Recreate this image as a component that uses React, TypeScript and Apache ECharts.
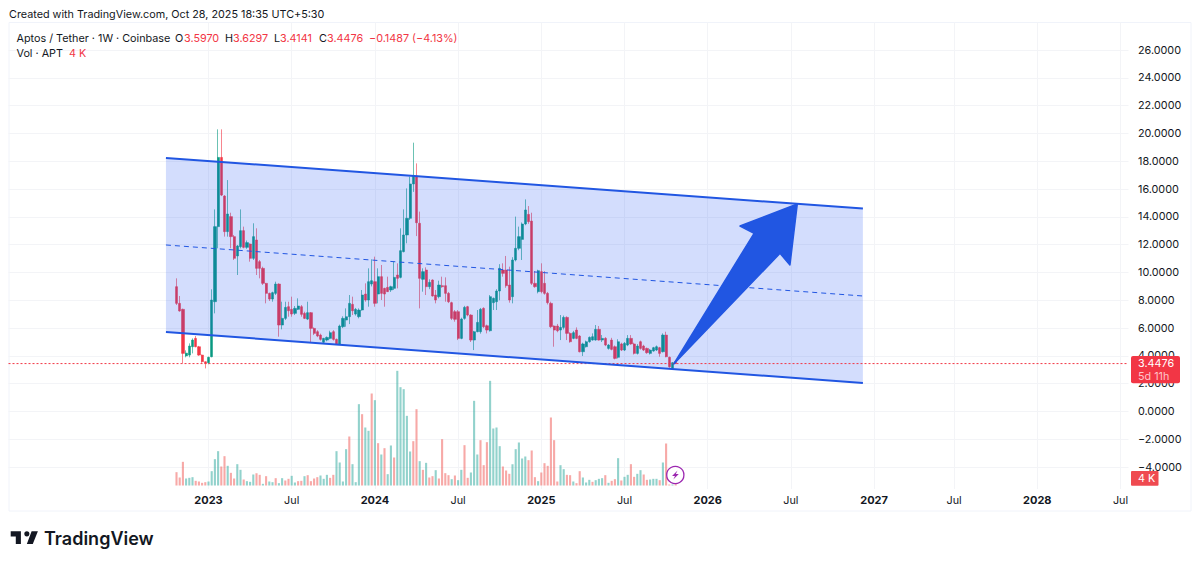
import React, { useEffect, useRef } from "react";
import * as echarts from "echarts";

const FONT = 'Inter, "Liberation Sans", Arial, sans-serif';
const WEEK_COUNT = 350;
const FIRST_BAR_WEEK = 52;

const tickWeeks = [62, 88, 114, 140, 166, 192, 218, 244, 270, 295, 321, 347];
const tickNames = ["2023", "Jul", "2024", "Jul", "2025", "Jul", "2026", "Jul", "2027", "Jul", "2028", "Jul"];

const opens = [8.98,7.78,7.35,4.0,4.06,4.66,5.26,4.66,4.06,3.58,3.51,3.94,7.9,13.3,18.28,15.5,12.94,14.02,12.58,11.19,11.86,13.01,11.81,12.05,11.02,12.34,10.78,10.3,9.22,8.5,8.09,8.5,9.17,6.22,6.7,7.54,7.35,7.06,7.35,7.54,7.06,6.65,7.11,5.98,5.74,5.5,4.98,5.14,5.26,5.74,5.19,4.86,6.1,6.58,6.82,7.71,7.01,6.82,7.3,8.45,8.02,9.17,9.34,8.45,9.7,8.86,8.93,8.74,8.86,9.82,9.65,11.5,12.7,13.9,16.37,16.94,13.54,9.51,10.18,8.98,9.46,8.38,8.26,9.05,9.05,8.5,7.83,7.18,7.18,5.26,6.7,7.54,6.94,5.14,5.74,5.74,7.42,6.17,5.81,7.83,7.9,8.67,10.18,10.18,9.1,8.26,10.9,11.74,12.38,13.49,14.18,13.7,9.22,8.62,10.06,9.22,8.5,7.78,6.15,6.15,5.86,6.05,6.77,5.62,5.26,5.86,5.43,4.3,4.66,5.02,5.14,5.14,5.91,5.14,5.26,4.54,5.14,4.66,3.9,4.86,4.42,4.78,5.26,4.86,4.18,5.02,4.71,4.54,4.18,4.35,4.42,4.59,4.3,5.5,3.9,3.1,3.597];
const closes = [7.78,7.23,4.18,4.2,4.71,5.14,4.66,4.06,3.58,3.46,3.9,8.02,13.3,18.28,15.57,12.94,14.21,12.58,11.02,11.91,13.01,11.81,12.15,11.02,12.58,10.3,10.3,9.22,8.5,8.09,8.55,9.17,6.22,6.7,7.49,7.25,7.01,7.42,7.59,6.99,6.7,7.11,5.98,5.62,5.43,5.19,5.26,5.33,5.67,5.19,4.86,6.15,6.7,6.82,7.78,7.25,7.35,7.3,8.38,8.02,9.34,9.41,7.78,9.7,8.5,8.45,8.62,8.98,9.65,9.58,11.57,12.7,13.9,16.37,16.94,13.58,9.58,10.06,8.98,9.29,8.31,8.02,9.1,8.98,8.5,7.9,6.7,6.63,5.26,6.65,7.49,6.94,5.14,5.74,6.41,7.35,6.1,5.86,8.26,8.14,8.67,10.3,9.94,9.05,8.02,10.9,11.74,12.58,13.49,14.5,13.66,9.22,8.98,10.13,8.62,8.5,7.83,6.1,5.86,5.81,6.05,6.77,5.62,5.02,5.67,5.26,4.3,4.86,5.02,5.33,5.38,5.91,5.14,5.26,4.78,4.78,4.47,3.82,5.02,4.42,4.9,5.26,4.86,4.18,4.71,4.54,4.42,4.23,4.42,4.59,4.66,4.18,5.5,3.94,3.22,3.51,3.4476];
const lows = [7.66,7.18,3.46,3.9,3.9,4.18,4.62,4.0,3.5,3.1,3.4,3.9,7.06,11.74,15.5,12.58,12.58,11.74,10.9,9.82,11.74,11.74,11.7,10.78,10.9,9.82,9.58,9.1,7.78,7.95,7.9,8.38,5.38,5.91,6.58,6.82,6.82,6.94,7.3,6.82,6.65,6.58,4.95,5.5,5.35,5.1,4.9,5.05,5.2,5.1,4.8,4.8,6.0,6.1,6.29,6.94,6.9,6.7,7.25,7.9,7.54,9.0,7.54,7.78,8.02,7.54,8.6,8.6,8.74,8.86,9.58,11.45,12.1,13.78,15.8,12.62,7.42,8.62,8.38,8.8,8.26,7.78,8.14,8.9,7.9,7.8,6.58,6.46,5.14,5.2,6.6,6.85,5.0,4.42,5.7,5.6,6.0,5.62,5.75,7.3,7.3,8.0,9.7,8.9,7.83,7.78,10.8,11.6,10.9,13.4,13.5,9.1,8.9,8.5,8.5,8.4,7.7,6.0,4.66,5.7,5.14,5.9,5.14,4.95,5.2,5.2,4.25,3.99,4.6,4.95,5.1,5.1,5.1,5.0,4.7,4.45,4.4,3.75,3.82,4.35,4.35,4.7,4.8,4.1,4.1,4.45,4.35,4.15,4.1,4.3,4.35,3.94,4.25,3.9,3.15,3.05,3.4141];
const highs = [9.58,8.31,7.4,4.4,4.9,5.26,5.43,4.72,4.1,3.6,3.95,8.79,14.54,20.3,20.3,15.57,16.65,14.3,12.7,11.98,14.54,13.3,12.3,12.1,13.54,13.18,10.9,10.42,9.25,8.55,8.62,9.34,9.22,7.9,7.9,7.9,8.26,7.59,8.14,7.66,7.18,7.9,7.15,6.05,5.85,5.6,5.3,5.4,5.81,5.85,5.25,6.25,6.85,7.42,8.38,8.26,7.45,7.42,8.74,9.22,10.3,10.95,11.14,10.3,10.54,8.9,9.7,9.05,10.78,10.66,13.18,14.54,16.05,16.89,19.34,17.85,14.38,10.3,10.37,9.51,9.51,8.74,9.41,9.7,9.65,8.6,7.9,7.3,7.3,6.75,7.6,7.6,7.0,5.8,7.3,7.45,7.5,6.25,8.38,8.2,8.8,10.6,10.66,11.19,10.42,11.1,14.02,13.3,13.6,15.26,14.78,14.3,10.1,10.2,10.66,10.1,8.6,7.9,6.2,6.3,6.94,6.9,6.85,5.7,5.8,6.05,5.5,4.95,5.1,5.4,5.62,6.22,6.15,5.5,5.35,4.85,5.3,4.75,5.2,4.95,5.0,5.5,5.5,4.95,4.85,5.1,4.8,4.6,4.5,4.65,4.75,4.65,5.62,5.74,3.95,3.55,3.6297];

const volumesK = [40,24,71,21,23,25,14,12,8,10,12,43,79,103,57,88,59,38,21,64,47,18,13,11,33,37,32,5,28,12,10,22,7,22,15,20,29,9,13,14,28,31,13,21,25,30,20,32,23,32,103,69,12,109,147,64,10,244,214,174,164,276,256,127,93,112,34,120,84,344,295,289,209,102,133,229,73,47,68,24,28,46,21,139,37,31,19,30,16,47,121,23,39,254,93,136,61,130,314,171,174,118,57,45,35,64,109,129,81,87,76,105,25,13,39,67,59,204,136,12,61,49,32,31,12,7,43,24,9,17,11,16,20,22,31,8,14,19,82,15,26,32,64,26,35,46,33,17,18,20,20,16,69,126,3,3,4];
const volumeSides = "rrrgggrrrrggggrrgrrggrgggrrgrggrggrrggrrgrrrrgggrrggggrgggrggrgrgrggrgggggrrgrgrrgrrrrgrggrrgggrrrggggrrrgggggrrrgrrrrrrggrrgrrgggrgggrgrrgrggrrggrrgggrgrrgr".split("");

const channelWeeks = [49.2, 267];
const channelUpper = [18.24, 14.6];
const channelMiddle = [11.98, 8.31];
const channelLower = [5.72, 2.05];

const arrowWeeks = [246.5, 244.2, 241.1, 207.9, 233, 228.6];
const arrowPrices = [14.93, 10.54, 11.38, 3.42, 12.82, 13.34];

const LAST_PRICE = 3.4476;
const UP = "#089981";
const DOWN = "#f23645";
const UP_WICK = "rgba(8,153,129,0.6)";
const DOWN_WICK = "rgba(242,54,69,0.6)";
const INK = "#131722";
const GRID = "#f3f4f7";
const BLUE = "#2156e2";
const SIZE = 10.8;

echarts.graphic.registerShape(
  "tvLogo",
  echarts.graphic.extendPath("M14 6H2v6h6v9h6V6zm14 15h-7l5.6-15H34l-6 15zm-7-9a3 3 0 1 0 0-6 3 3 0 0 0 0 6z", {})
);

const txt = (x: number, y: number, text: string, fill = INK, size = SIZE) => ({
  type: "text",
  x,
  y,
  z: 100,
  style: { text, fill, font: `${size}px ${FONT}`, textVerticalAlign: "middle" },
});

export default function App() {
  const ref = useRef<HTMLDivElement>(null);
  useEffect(() => {
    const chart = echarts.init(ref.current!, null, { renderer: "svg" });
    const weeks = Array.from({ length: WEEK_COUNT }, (_, i) => String(i));
    const pad = Array(FIRST_BAR_WEEK).fill("-");
    const candles = opens.map((o, i) => [o, closes[i], lows[i], highs[i]]);
    const bodies = opens.map((o, i) => [o, closes[i], Math.min(o, closes[i]), Math.max(o, closes[i])]);
    const bars = volumesK.map((v, i) => ({
      value: v,
      itemStyle: { color: volumeSides[i] === "g" ? "rgba(38,166,154,0.5)" : "rgba(239,83,80,0.5)" },
    }));
    const isTick = (idx: number) => tickWeeks.includes(idx);
    const left = 8.5;
    const width = 1120;

    const lineSeries = (xs: number[], vals: number[], color: string, w: number, type: any, z = 4) => ({
      type: "line",
      xAxisIndex: 1,
      yAxisIndex: 0,
      data: xs.map((x, i) => [x, vals[i]]),
      symbol: "none",
      silent: true,
      z,
      lineStyle: { color, width: w, type },
    });

    chart.setOption({
      animation: false,
      backgroundColor: "#ffffff",
      grid: [
        { left, width, top: 22.3, height: 472.6 },
        { left, width, top: 365, height: 120.5 },
        { left, width, top: 22.3, height: 466.7 },
      ],
      xAxis: [
        { type: "category", gridIndex: 0, data: weeks, show: false },
        { type: "value", gridIndex: 0, min: 0, max: WEEK_COUNT, show: false },
        { type: "category", gridIndex: 1, data: weeks, show: false },
        {
          type: "category",
          gridIndex: 2,
          data: weeks,
          axisLine: { show: false },
          axisTick: { show: false, alignWithLabel: true, interval: (i: number) => isTick(i) },
          splitLine: { show: true, alignWithLabel: true, interval: (i: number) => isTick(i), lineStyle: { color: GRID, width: 1 } },
          axisLabel: {
            interval: (i: number) => isTick(i),
            margin: 4,
            formatter: (_: string, i: number) => {
              const name = tickNames[tickWeeks.indexOf(i)] ?? "";
              return name === "Jul" ? `{m|${name}}` : `{y|${name}}`;
            },
            rich: {
              m: { fontFamily: FONT, fontSize: SIZE, color: INK, lineHeight: 14 },
              y: { fontFamily: FONT, fontSize: 11, fontWeight: 700, color: INK, lineHeight: 14 },
            },
          },
        },
      ],
      yAxis: [
        {
          type: "value",
          gridIndex: 0,
          position: "right",
          min: -6,
          max: 28,
          interval: 2,
          axisLine: { show: false },
          axisTick: { show: false },
          splitLine: { show: true, showMinLine: false, showMaxLine: false, lineStyle: { color: GRID, width: 1 } },
          axisLabel: {
            showMinLabel: false,
            showMaxLabel: false,
            margin: 9.5,
            fontFamily: FONT,
            fontSize: SIZE,
            color: INK,
            formatter: (v: number) => (v < 0 ? "\u2212" : "") + Math.abs(v).toFixed(4),
          },
        },
        { type: "value", gridIndex: 1, min: 0, max: 361.5, show: false, splitLine: { show: false } },
        { type: "value", gridIndex: 2, min: 0, max: 1, show: false, splitLine: { show: false } },
      ],
      series: [
        {
          type: "bar",
          xAxisIndex: 2,
          yAxisIndex: 1,
          data: [...pad, ...bars],
          barWidth: 2.1,
          silent: true,
          z: 1,
        },
        {
          type: "candlestick",
          xAxisIndex: 0,
          yAxisIndex: 0,
          data: [...pad, ...candles],
          barWidth: 1,
          silent: true,
          z: 2,
          itemStyle: { color: UP_WICK, color0: DOWN_WICK, borderColor: UP_WICK, borderColor0: DOWN_WICK, borderWidth: 1 },
        },
        {
          type: "candlestick",
          xAxisIndex: 0,
          yAxisIndex: 0,
          data: [...pad, ...bodies],
          barWidth: 2.7,
          silent: true,
          z: 3,
          itemStyle: { color: UP, color0: DOWN, borderColor: UP, borderColor0: DOWN, borderWidth: 0.5 },
        },
        {
          type: "custom",
          xAxisIndex: 1,
          yAxisIndex: 0,
          data: [[channelWeeks[0], channelUpper[0]]],
          silent: true,
          z: 4,
          renderItem: (_: any, api: any) => ({
            type: "polygon",
            shape: {
              points: [
                api.coord([channelWeeks[0], channelUpper[0]]),
                api.coord([channelWeeks[1], channelUpper[1]]),
                api.coord([channelWeeks[1], channelLower[1]]),
                api.coord([channelWeeks[0], channelLower[0]]),
              ],
            },
            style: { fill: "rgba(33,87,243,0.2)", stroke: "none" },
          }),
        },
        lineSeries([0, WEEK_COUNT], [LAST_PRICE, LAST_PRICE], "#f23645", 1, [2, 2], 5),
        lineSeries(channelWeeks, channelUpper, BLUE, 2, "solid", 6),
        lineSeries(channelWeeks, channelLower, BLUE, 2, "solid", 6),
        lineSeries(channelWeeks, channelMiddle, BLUE, 1, [5, 4], 6),
        {
          type: "custom",
          xAxisIndex: 1,
          yAxisIndex: 0,
          data: [[arrowWeeks[0], arrowPrices[0]]],
          silent: true,
          z: 7,
          renderItem: (_: any, api: any) => ({
            type: "polygon",
            shape: { points: arrowWeeks.map((w, i) => api.coord([w, arrowPrices[i]])) },
            style: { fill: BLUE, stroke: BLUE, lineWidth: 1.5, lineJoin: "round" },
          }),
        },
      ],
      graphic: [
        { type: "rect", z: 0, shape: { x: 9, y: 22.5, width: 1182, height: 488.5 }, style: { fill: "none", stroke: "#f0f3fa", lineWidth: 1 } },
        txt(9, 14, "Created with TradingView.com, Oct 28, 2025 18:35 UTC+5:30"),
        txt(16.5, 38, "Aptos / Tether \u00b7 1W \u00b7 Coinbase"),
        txt(175, 38, "O"),
        txt(184, 38, "3.5970", DOWN),
        txt(225, 38, "H"),
        txt(233, 38, "3.6297", DOWN),
        txt(274, 38, "L"),
        txt(280, 38, "3.4141", DOWN),
        txt(319, 38, "C"),
        txt(327, 38, "3.4476", DOWN),
        txt(369, 38, "\u22120.1487 (\u22124.13%)", DOWN),
        txt(16.5, 53, "Vol \u00b7 APT"),
        txt(69, 53, "4 K", DOWN),
        { type: "rect", z: 100, shape: { x: 1131, y: 356, width: 49, height: 27.3, r: 2 }, style: { fill: DOWN } },
        txt(1138, 363.5, "3.4476", "#ffffff"),
        txt(1138, 376, "5d 11h", "#ffc4c9"),
        { type: "rect", z: 100, shape: { x: 1131, y: 471, width: 27.5, height: 14.7, r: 1 }, style: { fill: "#ef4a50" } },
        txt(1138, 478.5, "4 K", "#ffffff"),
        { type: "circle", z: 100, shape: { cx: 675.3, cy: 475, r: 8.6 }, style: { fill: "#ffffff", stroke: "#9c27b0", lineWidth: 1.3 } },
        { type: "polygon", z: 101, shape: { points: [[677.5, 470.5], [672, 476], [675, 476], [673.3, 479.5], [678.8, 474], [675.8, 474]] }, style: { fill: "#9c27b0" } },
        { type: "tvLogo", z: 100, x: 9, y: 526.2, scaleX: 0.85, scaleY: 0.85, style: { fill: "#131722" } },
        { type: "text", z: 100, x: 44, y: 538, style: { text: "TradingView", fill: "#131722", font: `600 18px ${FONT}`, textVerticalAlign: "middle" } },
      ],
    });
    return () => chart.dispose();
  }, []);
  return <div ref={ref} style={{ position: "fixed", left: 0, top: 0, width: 1200, height: 565 }} />;
}
